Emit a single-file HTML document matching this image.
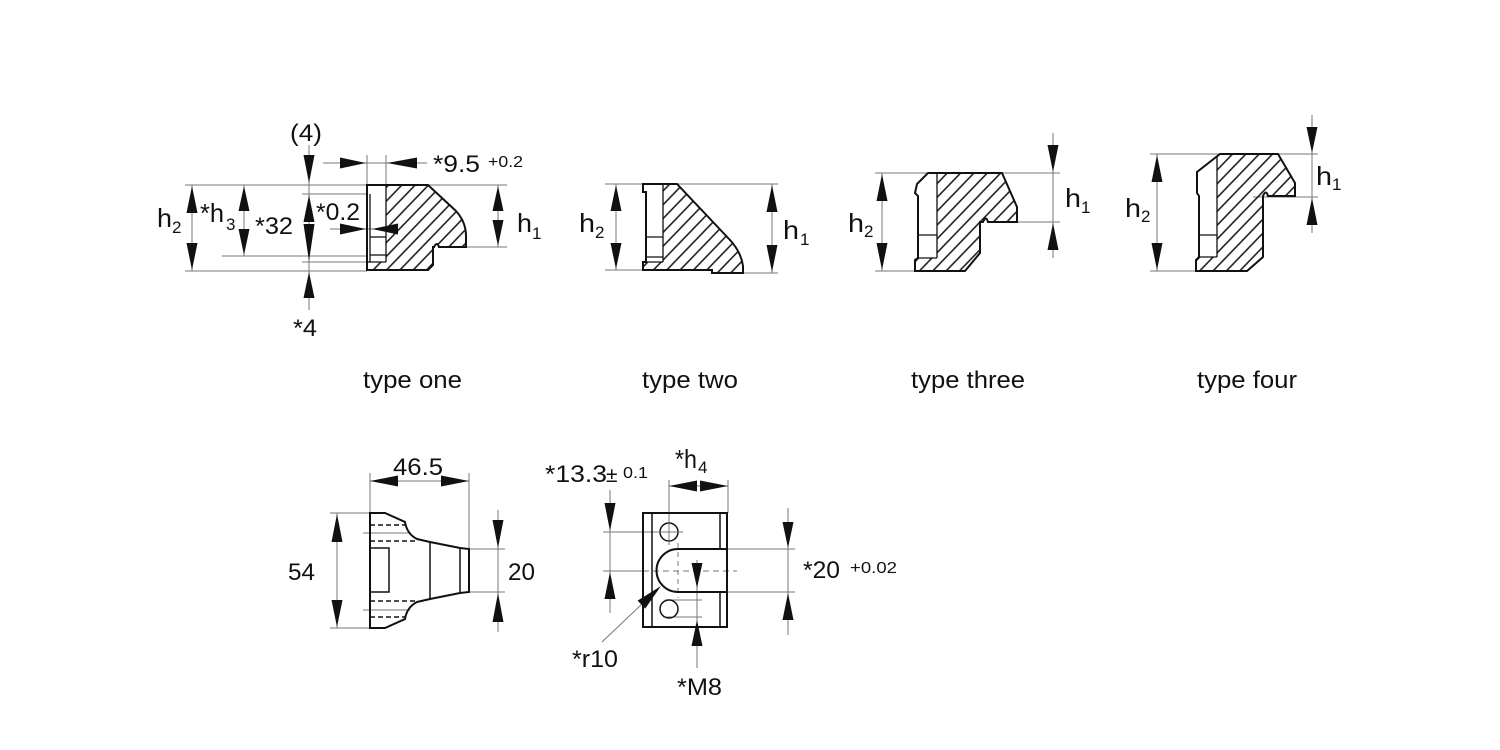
<!DOCTYPE html>
<html><head><meta charset="utf-8"><style>
html,body{margin:0;padding:0;background:#fff;}
svg{display:block;}
text{font-family:"Liberation Sans",Arial,sans-serif;fill:#111;}
</style></head><body>
<svg width="1500" height="750" viewBox="0 0 1500 750" xmlns="http://www.w3.org/2000/svg">
<defs>
<pattern id="h" patternUnits="userSpaceOnUse" width="9.6" height="9.6" patternTransform="rotate(-46)">
<line x1="-1" y1="4.8" x2="11" y2="4.8" stroke="#111" stroke-width="1.5"/>
</pattern>
</defs>
<rect width="1500" height="750" fill="#fff"/>

<!-- ============ TYPE ONE ============ -->
<g stroke="#777" stroke-width="1" fill="none">
<line x1="185" y1="185" x2="507" y2="185"/>
<line x1="185" y1="271" x2="367" y2="271"/>
<line x1="222" y1="256" x2="367" y2="256"/>
<line x1="302" y1="194" x2="367" y2="194"/>
<line x1="302" y1="262" x2="367" y2="262"/>
<line x1="463" y1="247" x2="507" y2="247"/>
<line x1="192" y1="185" x2="192" y2="271"/>
<line x1="244" y1="185" x2="244" y2="256"/>
<line x1="309" y1="145" x2="309" y2="310"/>
<line x1="498" y1="185" x2="498" y2="247"/>
<line x1="323" y1="163" x2="427" y2="163"/>
<line x1="367" y1="155" x2="367" y2="185"/>
<line x1="386" y1="155" x2="386" y2="185"/>
<line x1="330" y1="229" x2="398" y2="229"/>
</g>
<path d="M386,185 L428,185 L456,211 Q466,222 466,236 L466,247 L439,247 Q437,241 434,247 L433,247 L433,265 L428,270 L367,270 L367,262 L386,262 Z" fill="url(#h)" stroke="none"/>
<path d="M367,185 L428,185 L456,211 Q466,222 466,236 L466,247 L439,247 Q437,241 434,247 L433,247 L433,265 L428,270 L367,270 Z" fill="none" stroke="#111" stroke-width="2"/>
<g stroke="#111" stroke-width="1.3">
<line x1="386" y1="185" x2="386" y2="262"/>
<line x1="370" y1="194" x2="370" y2="262"/>
<line x1="370" y1="237" x2="386" y2="237"/>
<line x1="367" y1="262" x2="386" y2="262"/>
<line x1="370" y1="255" x2="386" y2="255"/>
</g>
<g fill="#111">
<polygon points="192,186 186.5,213 197.5,213"/>
<polygon points="192,270 186.5,243 197.5,243"/>
<polygon points="244,186 238.5,211 249.5,211"/>
<polygon points="244,255 238.5,229 249.5,229"/>
<polygon points="309,183 303.5,155 314.5,155"/>
<polygon points="309,195 303.5,222 314.5,222"/>
<polygon points="309,261 303.5,224 314.5,224"/>
<polygon points="309,272 303.5,298 314.5,298"/>
<polygon points="498,186 492.5,211 503.5,211"/>
<polygon points="498,246 492.5,220 503.5,220"/>
<polygon points="366,163 340,157.5 340,168.5"/>
<polygon points="387,163 417,157.5 417,168.5"/>
<polygon points="366,229 340,223.5 340,234.5"/>
<polygon points="372,229 398,223.5 398,234.5"/>
</g>
<text x="290" y="141" font-size="24" textLength="32" lengthAdjust="spacingAndGlyphs">(4)</text>
<text x="433" y="172" font-size="24" textLength="47" lengthAdjust="spacingAndGlyphs">*9.5</text>
<text x="488" y="167" font-size="16" textLength="35" lengthAdjust="spacingAndGlyphs">+0.2</text>
<text x="157" y="227" font-size="26" textLength="15" lengthAdjust="spacingAndGlyphs">h</text>
<text x="172" y="233" font-size="17">2</text>
<text x="200" y="222" font-size="26" textLength="24" lengthAdjust="spacingAndGlyphs">*h</text>
<text x="226" y="230" font-size="17">3</text>
<text x="255" y="234" font-size="24" textLength="38" lengthAdjust="spacingAndGlyphs">*32</text>
<text x="316" y="220" font-size="24" textLength="44" lengthAdjust="spacingAndGlyphs">*0.2</text>
<text x="517" y="232" font-size="26" textLength="15" lengthAdjust="spacingAndGlyphs">h</text>
<text x="532" y="239" font-size="17">1</text>
<text x="293" y="336" font-size="24" textLength="24" lengthAdjust="spacingAndGlyphs">*4</text>

<!-- ============ TYPE TWO ============ -->
<g stroke="#777" stroke-width="1" fill="none">
<line x1="605" y1="184" x2="778" y2="184"/>
<line x1="605" y1="270" x2="643" y2="270"/>
<line x1="712" y1="273" x2="778" y2="273"/>
<line x1="616" y1="184" x2="616" y2="270"/>
<line x1="772" y1="184" x2="772" y2="273"/>
</g>
<path d="M663,184 L677,184 L730,240 Q741,252 743,266 L743,273 L712,273 L712,270 L643,270 L643,262 L663,262 Z" fill="url(#h)"/>
<path d="M643,184 L677,184 L730,240 Q741,252 743,266 L743,273 L712,273 L712,270 L643,270 L643,262 L646,262 L646,192 L643,192 Z" fill="none" stroke="#111" stroke-width="2"/>
<g stroke="#111" stroke-width="1.3">
<line x1="663" y1="184" x2="663" y2="262"/>
<line x1="646" y1="237" x2="663" y2="237"/>
<line x1="646" y1="257" x2="663" y2="257"/>
<line x1="646" y1="262" x2="663" y2="262"/>
</g>
<g fill="#111">
<polygon points="616,185 610.5,211 621.5,211"/>
<polygon points="616,269 610.5,243 621.5,243"/>
<polygon points="772,185 766.5,212 777.5,212"/>
<polygon points="772,272 766.5,245 777.5,245"/>
</g>
<text x="579" y="232" font-size="26" textLength="16" lengthAdjust="spacingAndGlyphs">h</text>
<text x="595" y="238" font-size="17">2</text>
<text x="783" y="239" font-size="26" textLength="16" lengthAdjust="spacingAndGlyphs">h</text>
<text x="800" y="245" font-size="17">1</text>

<!-- ============ TYPE THREE ============ -->
<g stroke="#777" stroke-width="1" fill="none">
<line x1="875" y1="173" x2="1060" y2="173"/>
<line x1="875" y1="271" x2="915" y2="271"/>
<line x1="1012" y1="222" x2="1060" y2="222"/>
<line x1="882" y1="173" x2="882" y2="271"/>
<line x1="1053" y1="133" x2="1053" y2="258"/>
</g>
<path d="M937,173 L1002,173 L1017,207 L1017,222 L988,222 Q986,215 983,222 L980,222 L980,253 L965,271 L915,271 L915,258 L937,258 Z" fill="url(#h)"/>
<path d="M928,173 L1002,173 L1017,207 L1017,222 L988,222 Q986,215 983,222 L980,222 L980,253 L965,271 L915,271 L915,260 L918,258 L918,196 L915,193 L917,184 Z" fill="none" stroke="#111" stroke-width="2"/>
<g stroke="#111" stroke-width="1.3">
<line x1="937" y1="173" x2="937" y2="258"/>
<line x1="918" y1="235" x2="937" y2="235"/>
<line x1="918" y1="258" x2="937" y2="258"/>
</g>
<g fill="#111">
<polygon points="882,174 876.5,201 887.5,201"/>
<polygon points="882,270 876.5,243 887.5,243"/>
<polygon points="1053,172 1047.5,145 1058.5,145"/>
<polygon points="1053,223 1047.5,250 1058.5,250"/>
</g>
<text x="848" y="232" font-size="26" textLength="16" lengthAdjust="spacingAndGlyphs">h</text>
<text x="864" y="237" font-size="17">2</text>
<text x="1065" y="207" font-size="26" textLength="16" lengthAdjust="spacingAndGlyphs">h</text>
<text x="1081" y="213" font-size="17">1</text>

<!-- ============ TYPE FOUR ============ -->
<g stroke="#777" stroke-width="1" fill="none">
<line x1="1150" y1="154" x2="1318" y2="154"/>
<line x1="1150" y1="271" x2="1196" y2="271"/>
<line x1="1253" y1="197" x2="1318" y2="197"/>
<line x1="1157" y1="154" x2="1157" y2="271"/>
<line x1="1312" y1="115" x2="1312" y2="233"/>
</g>
<path d="M1217,156 L1220,154 L1278,154 L1295,183 L1295,196 L1268,196 Q1266,189 1263,196 L1263,257 L1247,271 L1196,271 L1196,257 L1217,257 Z" fill="url(#h)"/>
<path d="M1220,154 L1278,154 L1295,183 L1295,196 L1268,196 Q1266,189 1263,196 L1263,257 L1247,271 L1196,271 L1196,260 L1199,257 L1199,196 L1197,193 L1197,172 Z" fill="none" stroke="#111" stroke-width="2"/>
<g stroke="#111" stroke-width="1.3">
<line x1="1217" y1="156" x2="1217" y2="257"/>
<line x1="1199" y1="235" x2="1217" y2="235"/>
<line x1="1199" y1="257" x2="1217" y2="257"/>
</g>
<g fill="#111">
<polygon points="1157,155 1151.5,182 1162.5,182"/>
<polygon points="1157,270 1151.5,243 1162.5,243"/>
<polygon points="1312,153 1306.5,127 1317.5,127"/>
<polygon points="1312,198 1306.5,225 1317.5,225"/>
</g>
<text x="1125" y="217" font-size="26" textLength="16" lengthAdjust="spacingAndGlyphs">h</text>
<text x="1141" y="222" font-size="17">2</text>
<text x="1316" y="185" font-size="26" textLength="16" lengthAdjust="spacingAndGlyphs">h</text>
<text x="1332" y="190" font-size="17">1</text>

<!-- type labels -->
<text x="363" y="388" font-size="24" textLength="99" lengthAdjust="spacingAndGlyphs">type one</text>
<text x="642" y="388" font-size="24" textLength="96" lengthAdjust="spacingAndGlyphs">type two</text>
<text x="911" y="388" font-size="24" textLength="114" lengthAdjust="spacingAndGlyphs">type three</text>
<text x="1197" y="388" font-size="24" textLength="100" lengthAdjust="spacingAndGlyphs">type four</text>

<!-- ============ BOTTOM LEFT ============ -->
<g stroke="#777" stroke-width="1" fill="none">
<line x1="370" y1="473" x2="370" y2="513"/>
<line x1="469" y1="473" x2="469" y2="549"/>
<line x1="370" y1="481" x2="469" y2="481"/>
<line x1="330" y1="513" x2="370" y2="513"/>
<line x1="330" y1="628" x2="370" y2="628"/>
<line x1="337" y1="513" x2="337" y2="628"/>
<line x1="469" y1="549" x2="505" y2="549"/>
<line x1="469" y1="592" x2="505" y2="592"/>
<line x1="498" y1="510" x2="498" y2="632"/>
<line x1="363" y1="533" x2="410" y2="533"/>
<line x1="363" y1="610" x2="410" y2="610"/>
</g>
<path d="M370,513 L385,513 L405,522 Q407,534 417,539 L430,542 L460,548 L469,549 L469,592 L460,593 L430,599 L417,602 Q407,607 405,619 L385,628 L370,628 Z" fill="none" stroke="#111" stroke-width="2"/>
<g stroke="#111" stroke-width="1.5" fill="none">
<line x1="430" y1="542" x2="430" y2="600"/>
<line x1="460" y1="548" x2="460" y2="594"/>
<rect x="370" y="548" width="19" height="44"/>
</g>
<g stroke="#111" stroke-width="1.5" stroke-dasharray="5,3">
<line x1="370" y1="525" x2="405" y2="525"/>
<line x1="370" y1="541" x2="418" y2="541"/>
<line x1="370" y1="601" x2="418" y2="601"/>
<line x1="370" y1="617" x2="405" y2="617"/>
</g>
<g fill="#111">
<polygon points="370,481 398,475.5 398,486.5"/>
<polygon points="469,481 441,475.5 441,486.5"/>
<polygon points="337,514 331.5,542 342.5,542"/>
<polygon points="337,627 331.5,600 342.5,600"/>
<polygon points="498,548 492.5,520 503.5,520"/>
<polygon points="498,593 492.5,622 503.5,622"/>
</g>
<text x="393" y="475" font-size="24" textLength="50" lengthAdjust="spacingAndGlyphs">46.5</text>
<text x="288" y="580" font-size="24" textLength="27" lengthAdjust="spacingAndGlyphs">54</text>
<text x="508" y="580" font-size="24" textLength="27" lengthAdjust="spacingAndGlyphs">20</text>

<!-- ============ BOTTOM RIGHT ============ -->
<g stroke="#777" stroke-width="1" fill="none">
<line x1="669" y1="480" x2="669" y2="545"/>
<line x1="728" y1="480" x2="728" y2="513"/>
<line x1="669" y1="486" x2="728" y2="486"/>
<line x1="610" y1="490" x2="610" y2="613"/>
<line x1="603" y1="532" x2="683" y2="532"/>
<line x1="603" y1="571" x2="643" y2="571"/>
<line x1="643" y1="571" x2="737" y2="571" stroke-dasharray="6,4"/>
<line x1="678" y1="543" x2="678" y2="598" stroke-dasharray="5,4"/>
<line x1="665" y1="600" x2="702" y2="600"/>
<line x1="663" y1="617" x2="702" y2="617"/>
<line x1="697" y1="560" x2="697" y2="668"/>
<line x1="727" y1="549" x2="795" y2="549"/>
<line x1="727" y1="592" x2="795" y2="592"/>
<line x1="788" y1="508" x2="788" y2="635"/>
<line x1="602" y1="642" x2="643" y2="603"/>
</g>
<g stroke="#111" stroke-width="2" fill="none">
<rect x="643" y="513" width="84" height="114"/>
<path d="M727,549 L678,549 A21.5,21.5 0 0 0 678,592 L727,592"/>
</g>
<g stroke="#111" stroke-width="1.5" fill="#fff">
<line x1="652" y1="513" x2="652" y2="627"/>
<line x1="720" y1="513" x2="720" y2="549"/>
<line x1="720" y1="592" x2="720" y2="627"/>
<circle cx="669" cy="532" r="9" fill="none"/>
<circle cx="669" cy="609" r="9" fill="none"/>
</g>
<g stroke="#777" stroke-width="1">
<line x1="669" y1="520" x2="669" y2="545"/>
<line x1="659" y1="532" x2="683" y2="532"/>
</g>
<g fill="#111">
<polygon points="669,486 697,480.5 697,491.5"/>
<polygon points="728,486 700,480.5 700,491.5"/>
<polygon points="610,531 604.5,503 615.5,503"/>
<polygon points="610,572 604.5,599 615.5,599"/>
<polygon points="697,588 691.5,563 702.5,563"/>
<polygon points="697,620 691.5,646 702.5,646"/>
<polygon points="788,548 782.5,522 793.5,522"/>
<polygon points="788,593 782.5,620 793.5,620"/>
<polygon points="661,586 645.2,608.6 637.6,600.6"/>
</g>
<text x="545" y="482" font-size="24" textLength="62" lengthAdjust="spacingAndGlyphs">*13.3</text>
<text x="606" y="482" font-size="21">±</text>
<text x="623" y="478" font-size="16" textLength="25" lengthAdjust="spacingAndGlyphs">0.1</text>
<text x="675" y="468" font-size="26" textLength="22" lengthAdjust="spacingAndGlyphs">*h</text>
<text x="698" y="473" font-size="17">4</text>
<text x="803" y="578" font-size="24" textLength="37" lengthAdjust="spacingAndGlyphs">*20</text>
<text x="850" y="573" font-size="16" textLength="47" lengthAdjust="spacingAndGlyphs">+0.02</text>
<text x="572" y="667" font-size="24" textLength="46" lengthAdjust="spacingAndGlyphs">*r10</text>
<text x="677" y="695" font-size="24" textLength="45" lengthAdjust="spacingAndGlyphs">*M8</text>
</svg>
</body></html>
